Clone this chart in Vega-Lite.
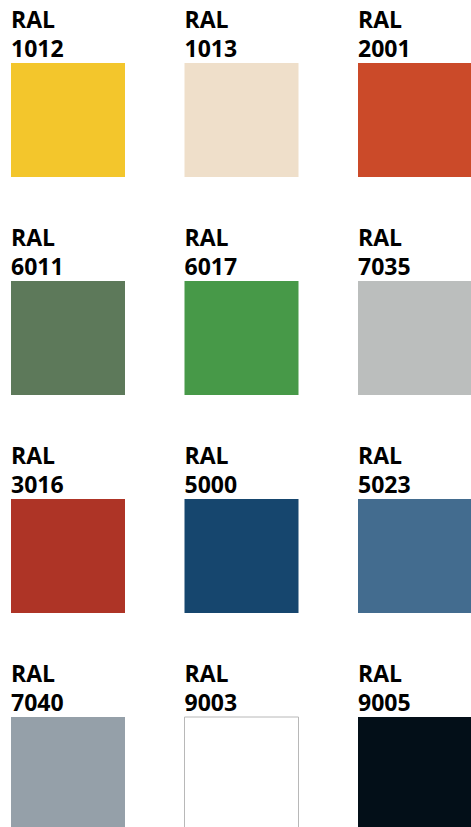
{
  "$schema": "https://vega.github.io/schema/vega-lite/v6.json",
  "width": 471,
  "height": 827,
  "padding": 0,
  "autosize": {"type": "none"},
  "background": "white",
  "config": {"view": {"stroke": null}},
  "data": {
    "values": [
      {"code": "1012", "label": "RAL\n1012", "color": "#F3C62C", "col": 0, "row": 0},
      {"code": "1013", "label": "RAL\n1013", "color": "#EFDFCA", "col": 1, "row": 0},
      {"code": "2001", "label": "RAL\n2001", "color": "#CB4A29", "col": 2, "row": 0},
      {"code": "6011", "label": "RAL\n6011", "color": "#5D795A", "col": 0, "row": 1},
      {"code": "6017", "label": "RAL\n6017", "color": "#479948", "col": 1, "row": 1},
      {"code": "7035", "label": "RAL\n7035", "color": "#BBBEBD", "col": 2, "row": 1},
      {"code": "3016", "label": "RAL\n3016", "color": "#AE3426", "col": 0, "row": 2},
      {"code": "5000", "label": "RAL\n5000", "color": "#16466E", "col": 1, "row": 2},
      {"code": "5023", "label": "RAL\n5023", "color": "#436C8F", "col": 2, "row": 2},
      {"code": "7040", "label": "RAL\n7040", "color": "#95A0A9", "col": 0, "row": 3},
      {"code": "9003", "label": "RAL\n9003", "color": "#FFFFFF", "col": 1, "row": 3},
      {"code": "9005", "label": "RAL\n9005", "color": "#030F18", "col": 2, "row": 3}
    ]
  },
  "encoding": {
    "x": {"field": "col", "type": "quantitative", "scale": {"domain": [0, 2], "range": [68, 415]}, "axis": null},
    "y": {"field": "row", "type": "quantitative", "scale": {"domain": [0, 3], "range": [120, 774]}, "axis": null}
  },
  "layer": [
    {
      "mark": {"type": "rect", "width": 114, "height": 114, "strokeWidth": 1},
      "encoding": {
        "fill": {"field": "color", "type": "nominal", "scale": null},
        "stroke": {"condition": {"test": "datum.code == '9003'", "value": "#b8b8b8"}, "value": null}
      }
    },
    {
      "mark": {"type": "text", "align": "left", "baseline": "alphabetic", "dx": -57, "dy": -92, "lineBreak": "\n", "lineHeight": 29, "font": "Open Sans", "fontWeight": "bold", "fontSize": 23, "fill": "#000000"},
      "encoding": {"text": {"field": "label", "type": "nominal"}}
    }
  ]
}
